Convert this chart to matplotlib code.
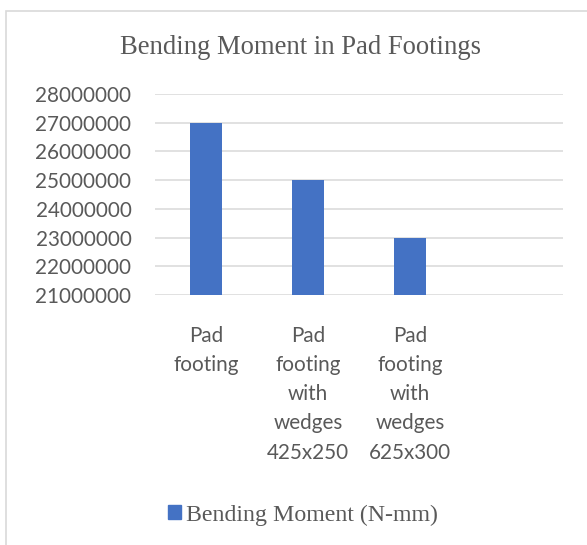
import matplotlib
matplotlib.use("Agg")
import matplotlib.pyplot as plt
from matplotlib.patches import Patch, Rectangle

categories = ["Pad\nfooting",
              "Pad\nfooting\nwith\nwedges\n425x250",
              "Pad\nfooting\nwith\nwedges\n625x300",
              ""]
values = [27000000, 25000000, 23000000]
yticks = [21000000, 22000000, 23000000, 24000000, 25000000, 26000000, 27000000, 28000000]

W, H = 587, 545
txt = "#595959"
blue = "#4472C4"
grid = "#D9D9D9"

fig = plt.figure(figsize=(W / 100, H / 100), dpi=100)

# cadre du graphique (style Excel)
fig.patches.append(Rectangle((6 / W, -0.1), 1.2, 1 - 11 / H + 0.1, transform=fig.transFigure,
                             fill=False, edgecolor=grid, linewidth=1.2))

ax = fig.add_axes([155 / W, 1 - 295 / H, (563 - 155) / W, (295 - 94) / H])
ax.bar(range(len(values)), values, width=0.31, color=blue, zorder=3)
ax.set_xlim(-0.5, len(categories) - 0.5)
ax.set_ylim(yticks[0], yticks[-1])
ax.set_yticks(yticks)
ax.set_yticklabels([str(v) for v in yticks], fontfamily="Lato", fontsize=14.9, color=txt)
ax.set_xticks(range(len(categories)))
ax.set_xticklabels(categories, fontfamily="Lato", fontsize=14.9, color=txt,
                   linespacing=1.58, va="top")
ax.tick_params(axis="y", length=0, pad=17)
ax.tick_params(axis="x", length=0, pad=22)
ax.grid(axis="y", color=grid, linewidth=1.1, zorder=0)
for s in ax.spines.values():
    s.set_visible(False)

fig.text(300 / W, 1 - 47 / H, "Bending Moment in Pad Footings", ha="center", va="center",
         fontfamily="Liberation Serif", fontsize=19.2, color=txt)

ax.legend(handles=[Patch(color=blue, label="Bending Moment (N-mm)")],
          loc="center", bbox_to_anchor=(303 / W, 1 - 515 / H), bbox_transform=fig.transFigure,
          frameon=False, borderpad=0, handlelength=0.55, handleheight=0.5, handletextpad=0.2,
          prop={"family": "Liberation Serif", "size": 17.2}, labelcolor=txt)

fig.savefig("out.png", dpi=100)
